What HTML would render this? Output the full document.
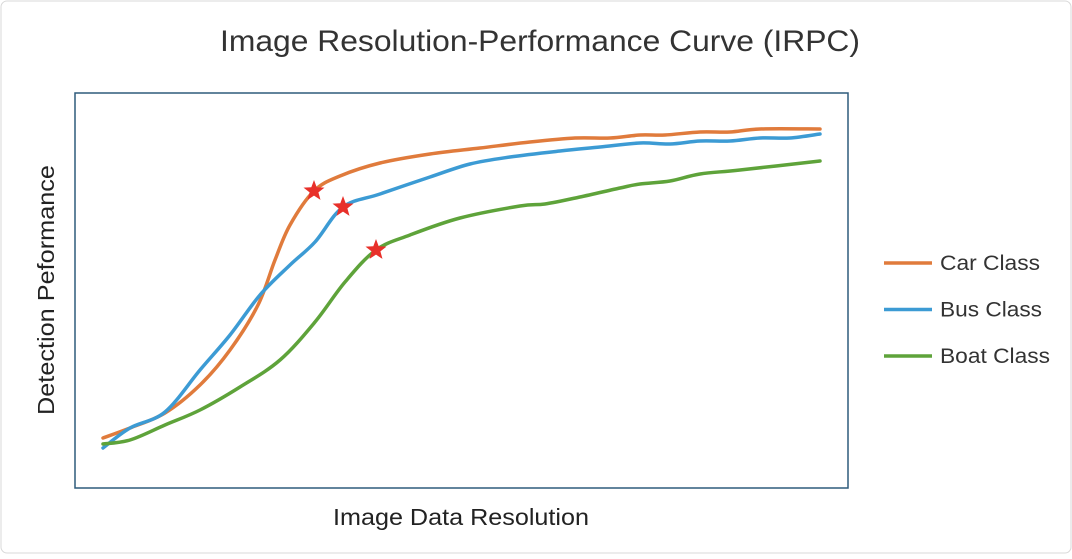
<!DOCTYPE html>
<html><head><meta charset="utf-8"><style>
body{margin:0;background:#fff;}
#wrap{position:relative;width:1072px;height:554px;font-family:"Liberation Sans",sans-serif;}
</style></head><body>
<div id="wrap">
<svg id="chart" width="1072" height="554">
<rect x="1" y="1" width="1070" height="552" rx="6" fill="#fff" stroke="#d9d9d9"/>
<text x="540" y="51" font-size="30" text-anchor="middle" textLength="640" lengthAdjust="spacingAndGlyphs" fill="#333">Image Resolution-Performance Curve (IRPC)</text>
<rect x="75" y="93" width="773" height="395" fill="none" stroke="#2e5b7c" stroke-width="1.5"/>
<text x="461" y="525" font-size="23" text-anchor="middle" textLength="256" lengthAdjust="spacingAndGlyphs" fill="#222">Image Data Resolution</text>
<text transform="translate(54,290) rotate(-90)" font-size="23" text-anchor="middle" textLength="250" lengthAdjust="spacingAndGlyphs" fill="#222">Detection Peformance</text>
<g id="series"></g>
<g id="legend"></g>
</svg>
</div>
<script>
const carX=[0,27,62,97,127,155,172,187,211,237,277,327,377,427,472,507,537,562,597,627,657,717];
const carY=[50,60,75,103,138,183,228,263,297,312,325,334,340,346,350,350,353,353,356,356,359,359];
const busX=[0,27,62,97,127,157,187,212,240,277,327,367,407,457,497,537,567,597,627,657,687,717];
const busY=[40,60,76,118,153,193,223,246,281,294,311,324,331,337,341,345,344,347,347,350,350,354];
const boatX=[0,27,62,97,137,177,212,242,273,307,357,417,442,477,517,537,567,597,637,717];
const boatY=[44,48,63,78,101,128,166,206,238,253,270,282,284,291,300,304,307,314,318,327];
const starIdx=[8,8,8];
const seriesNames=["Car Class","Bus Class","Boat Class"];
const legendWidths=[100,102,110];
const colors=["#e07b3c","#3c9bd4","#5ea33a"];

function sx(v){return 103+v;}
function sy(v){return 488-v;}
const NS="http://www.w3.org/2000/svg";
function path(xs,ys){
  const p=xs.map((x,i)=>[sx(x),sy(ys[i])]);
  let d="M"+p[0][0]+","+p[0][1];
  for(let i=0;i<p.length-1;i++){
    const p0=p[Math.max(0,i-1)],p1=p[i],p2=p[i+1],p3=p[Math.min(p.length-1,i+2)];
    const c1x=p1[0]+(p2[0]-p0[0])/6,c1y=p1[1]+(p2[1]-p0[1])/6;
    const c2x=p2[0]-(p3[0]-p1[0])/6,c2y=p2[1]-(p3[1]-p1[1])/6;
    d+=" C"+c1x+","+c1y+" "+c2x+","+c2y+" "+p2[0]+","+p2[1];
  }
  return d;
}
function star(cx,cy,R,r){
  let pts=[];
  for(let i=0;i<10;i++){const a=-Math.PI/2+i*Math.PI/5;const rr=i%2?r:R;pts.push((cx+rr*Math.cos(a)).toFixed(1)+","+(cy+rr*Math.sin(a)).toFixed(1));}
  return pts.join(" ");
}
const g=document.getElementById("series");
const all=[[carX,carY],[busX,busY],[boatX,boatY]];
const keys=["car","bus","boat"];
all.forEach((s,k)=>{
  const el=document.createElementNS(NS,"path");
  el.setAttribute("d",path(s[0],s[1]));
  el.setAttribute("fill","none");el.setAttribute("stroke",colors[k]);el.setAttribute("stroke-width","3.5");el.setAttribute("stroke-linecap","round");
  
  
  g.appendChild(el);
});
all.forEach((s,k)=>{
  const i=starIdx[k];
  const st=document.createElementNS(NS,"polygon");
  st.setAttribute("points",star(sx(s[0][i]),sy(s[1][i]),11,4.6));
  st.setAttribute("fill","#e8302a");
  
  
  g.appendChild(st);
});
const lg=document.getElementById("legend");
seriesNames.forEach((n,k)=>{
  const y=263+k*46.5;
  const ln=document.createElementNS(NS,"line");
  ln.setAttribute("x1",884);ln.setAttribute("x2",932);ln.setAttribute("y1",y);ln.setAttribute("y2",y);
  ln.setAttribute("stroke",colors[k]);ln.setAttribute("stroke-width","3.5");
  
  
  lg.appendChild(ln);
  const t=document.createElementNS(NS,"text");
  t.setAttribute("x",940);t.setAttribute("y",y+7);t.setAttribute("font-size","21");t.setAttribute("fill","#333");
  t.setAttribute("textLength",legendWidths[k]);t.setAttribute("lengthAdjust","spacingAndGlyphs");
  t.textContent=n;
  
  
  lg.appendChild(t);
});
</script>
</body></html>
